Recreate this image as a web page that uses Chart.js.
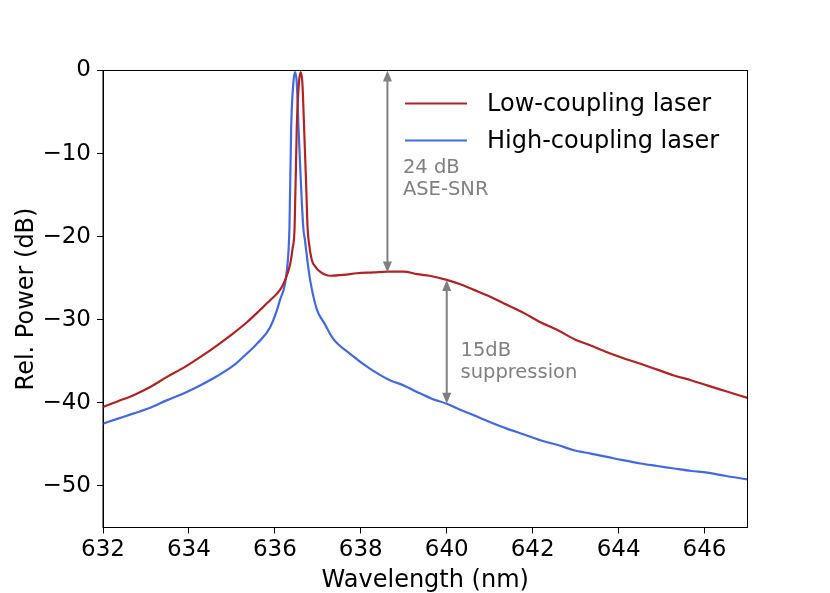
<!DOCTYPE html>
<html>
<head>
<meta charset="utf-8">
<script src="https://cdn.jsdelivr.net/npm/chart.js@4.4.1/dist/chart.umd.min.js"></script>
<style>
  html, body { margin: 0; padding: 0; background: #fff; }
  canvas { display: block; }
</style>
</head>
<body>
<canvas id="spectrum" width="830" height="593"></canvas>
<script>
// wavelength (nm) / relative power (dB)
const lowWl = [632.0, 632.35, 632.7, 633.1, 633.48, 633.9, 634.26, 634.65, 635.04, 635.35,
  635.66, 635.9, 636.12, 636.24, 636.36, 636.41, 636.46, 636.51, 636.56, 636.6,
  636.64, 636.68, 636.73, 636.76, 636.8, 636.86, 636.94, 637.05, 637.29, 637.6,
  637.91, 638.3, 638.61, 639.0, 639.31, 639.6, 640.0, 640.3, 640.63, 641.0,
  641.4, 641.8, 642.18, 642.6, 642.96, 643.35, 643.73, 644.1, 644.51, 644.9,
  645.29, 645.7, 646.06, 646.5, 647.0];
const lowDb = [-40.5, -39.8, -39.1, -38.1, -36.9, -35.7, -34.5, -33.1, -31.6, -30.3,
  -28.8, -27.6, -26.4, -25.2, -23.2, -21.5, -18.8, -6.8, -1.5, -0.2,
  -1.5, -6.8, -14.0, -18.8, -21.0, -22.8, -23.6, -24.2, -24.7, -24.6,
  -24.4, -24.3, -24.2, -24.2, -24.5, -24.7, -25.2, -25.7, -26.4, -27.2,
  -28.2, -29.2, -30.3, -31.3, -32.3, -33.1, -33.9, -34.6, -35.3, -36.0,
  -36.7, -37.3, -37.9, -38.6, -39.4];

const highWl = [632.0, 632.35, 632.7, 633.1, 633.48, 633.9, 634.26, 634.65, 635.04, 635.3,
  635.58, 635.89, 636.12, 636.28, 636.34, 636.38, 636.43, 636.47, 636.51, 636.55,
  636.66, 636.7, 636.76, 636.82, 636.98, 637.15, 637.36, 637.75, 638.22, 638.69,
  639.0, 639.31, 639.65, 640.0, 640.3, 640.63, 641.0, 641.4, 641.8, 642.18,
  642.6, 642.96, 643.35, 643.73, 644.1, 644.51, 644.9, 645.29, 645.7, 646.06,
  646.5, 647.0];
const highDb = [-42.5, -41.9, -41.3, -40.6, -39.7, -38.8, -37.9, -36.8, -35.5, -34.3,
  -32.9, -30.9, -27.6, -24.0, -18.8, -6.8, -1.5, -0.2, -1.5, -6.8,
  -18.8, -20.4, -23.0, -25.2, -28.8, -30.4, -32.3, -34.1, -35.9, -37.3,
  -37.9, -38.7, -39.5, -40.1, -40.8, -41.5, -42.3, -43.1, -43.8, -44.5,
  -45.1, -45.7, -46.1, -46.5, -46.9, -47.3, -47.6, -47.9, -48.2, -48.4,
  -48.8, -49.2];

const seriesNames = ['Low-coupling laser', 'High-coupling laser'];

// double arrows: [wavelength, from dB, to dB]
const snrArrow = [638.62, 0, -24.3];
const suppArrow = [640.0, -25.2, -40.1];
// annotation text: [wavelength, dB of first baseline], lines
const snrNote = [638.98, -12.3];
const snrLines = ['24 dB', 'ASE-SNR'];
const suppNote = [640.32, -34.4];
const suppLines = ['15dB', 'suppression'];

const FONT = 'DejaVu Sans';
const minus = v => String(v).replace('-', '\u2212');

function toPoints(xs, ys) {
  return xs.map((x, i) => ({ x: x, y: ys[i] }));
}

function arrowHead(ctx, x, y, dir) {
  ctx.beginPath();
  ctx.moveTo(x, y);
  ctx.lineTo(x - 4.5, y + dir * 11);
  ctx.lineTo(x + 4.5, y + dir * 11);
  ctx.closePath();
  ctx.fill();
}

const extras = {
  id: 'extras',
  afterDatasetsDraw(chart) {
    const ctx = chart.ctx;
    const xs = chart.scales.x, ys = chart.scales.y;
    const area = chart.chartArea;
    ctx.save();

    // arrows
    ctx.strokeStyle = '#808080';
    ctx.fillStyle = '#808080';
    ctx.lineWidth = 2;
    [snrArrow, suppArrow].forEach(a => {
      const px = xs.getPixelForValue(a[0]);
      const y1 = ys.getPixelForValue(a[1]);
      const y2 = ys.getPixelForValue(a[2]);
      ctx.beginPath();
      ctx.moveTo(px, y1 + 8);
      ctx.lineTo(px, y2 - 8);
      ctx.stroke();
      arrowHead(ctx, px, y1, 1);
      arrowHead(ctx, px, y2, -1);
    });

    // notes
    ctx.font = '19.5px "' + FONT + '"';
    ctx.textBaseline = 'alphabetic';
    ctx.textAlign = 'left';
    [[snrNote, snrLines], [suppNote, suppLines]].forEach(n => {
      const px = xs.getPixelForValue(n[0][0]);
      const py = ys.getPixelForValue(n[0][1]);
      n[1].forEach((t, i) => ctx.fillText(t, px, py + i * 22));
    });

    // legend
    ctx.font = '24px "' + FONT + '"';
    ctx.textBaseline = 'middle';
    chart.data.datasets.forEach((ds, i) => {
      const y = area.top + 33 + i * 37;
      ctx.strokeStyle = ds.borderColor;
      ctx.lineWidth = 2.2;
      ctx.beginPath();
      ctx.moveTo(area.left + 302, y);
      ctx.lineTo(area.left + 364, y);
      ctx.stroke();
      ctx.fillStyle = '#000';
      ctx.fillText(ds.label, area.left + 384, y + 1);
    });

    // frame
    ctx.strokeStyle = '#000';
    ctx.lineWidth = 1;
    ctx.strokeRect(area.left, area.top, area.right - area.left, area.bottom - area.top);
    ctx.restore();
  }
};

new Chart(document.getElementById('spectrum'), {
  type: 'line',
  data: {
    datasets: [
      {
        label: seriesNames[0],
        data: toPoints(lowWl, lowDb),
        borderColor: '#b22222',
        borderWidth: 2.2,
        pointRadius: 0,
        cubicInterpolationMode: 'monotone'
      },
      {
        label: seriesNames[1],
        data: toPoints(highWl, highDb),
        borderColor: '#4169e1',
        borderWidth: 2.2,
        pointRadius: 0,
        cubicInterpolationMode: 'monotone'
      }
    ]
  },
  options: {
    responsive: false,
    devicePixelRatio: 1,
    animation: false,
    layout: { padding: { left: 0, right: 82.5, top: 70.5, bottom: 0 } },
    plugins: {
      legend: { display: false },
      tooltip: { enabled: false }
    },
    scales: {
      x: {
        type: 'linear',
        min: 632,
        max: 647,
        afterFit: s => { s.height = 65.5; },
        ticks: {
          stepSize: 2,
          includeBounds: false,
          color: '#000',
          padding: 3,
          font: { family: FONT, size: 23 },
          maxRotation: 0
        },
        grid: { drawOnChartArea: false, tickLength: 6, color: '#000' },
        border: { color: '#000', width: 1 },
        title: {
          display: true,
          text: 'Wavelength (nm)',
          color: '#000',
          font: { family: FONT, size: 24 },
          padding: { top: 0, bottom: -2 }
        }
      },
      y: {
        min: -55,
        max: 0,
        afterFit: s => { s.width = 103; },
        ticks: {
          stepSize: 10,
          includeBounds: false,
          color: '#000',
          padding: 6,
          font: { family: FONT, size: 23 },
          callback: v => minus(v)
        },
        grid: { drawOnChartArea: false, tickLength: 6, color: '#000' },
        border: { color: '#000', width: 1 },
        title: {
          display: true,
          text: 'Rel. Power (dB)',
          color: '#000',
          font: { family: FONT, size: 24 },
          padding: { top: 12, bottom: 0 }
        }
      }
    }
  },
  plugins: [extras]
});
</script>
</body>
</html>
